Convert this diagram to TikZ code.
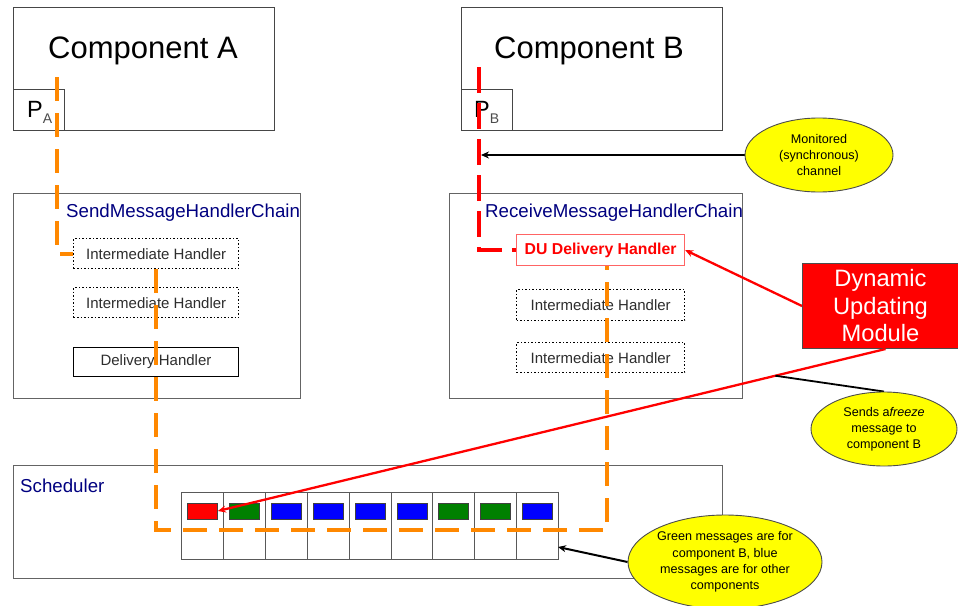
\documentclass[tikz,border=0pt]{standalone}
\usepackage{fontspec}
\setmainfont{Liberation Sans}
\usetikzlibrary{arrows.meta,shapes.geometric,calc}
\pgfdeclarelayer{front}
\pgfsetlayers{main,front}
\definecolor{navyc}{RGB}{0,0,128}
\definecolor{orangec}{RGB}{255,136,0}
\definecolor{boxgrey}{RGB}{70,70,70}
\definecolor{chaingrey}{RGB}{100,100,100}
\definecolor{txtgrey}{RGB}{45,45,45}
\definecolor{msgred}{RGB}{255,0,0}
\definecolor{msggreen}{RGB}{0,128,0}
\definecolor{msgblue}{RGB}{0,0,255}
\definecolor{lightred}{RGB}{255,100,100}
\definecolor{ellyellow}{RGB}{255,255,0}
\definecolor{dumred}{RGB}{255,0,0}
\tikzset{
  rbox/.style={anchor=north west, inner sep=0pt},
  compbox/.style={rbox, draw=boxgrey, line width=1.1pt},
  chainbox/.style={rbox, draw=chaingrey, line width=1.4pt},
  dotbox/.style={rbox, draw=black, line width=1.4pt, dash pattern=on 1.6pt off 1.9pt,
     text=txtgrey, font=\fontsize{15}{18}\selectfont},
  solidbox/.style={rbox, draw=black, line width=1pt, text=txtgrey, font=\fontsize{15}{18}\selectfont},
  titletxt/.style={anchor=base, inner sep=0pt, font=\fontsize{31}{37}\selectfont},
  ptxt/.style={anchor=base west, inner sep=0pt, font=\fontsize{23.5}{28}\selectfont},
  chainlbl/.style={anchor=base west, inner sep=0pt, text=navyc, font=\fontsize{18.7}{22}\selectfont},
  cell/.style={rbox, draw=black!65, line width=1pt, minimum width=41.9pt, minimum height=67pt},
  msg/.style={draw=black!75, line width=0.9pt, minimum width=30pt, minimum height=16pt, inner sep=0pt},
  orangeline/.style={draw=orangec, line width=4pt, dash pattern=on 24pt off 12pt},
  redchannel/.style={draw=red, line width=3.5pt, dash pattern=on 26pt off 10pt},
  redarrow/.style={draw=red, line width=2.3pt, -{Stealth[length=8pt,width=7pt]}},
  blackarrow/.style={draw=black, line width=2pt, -{Stealth[length=8pt,width=7pt]}},
  callout/.style={ellipse, draw=black!70, line width=0.9pt, fill=ellyellow, inner sep=0pt,
     align=center, font=\fontsize{12.6}{15.8}\selectfont},
}
\begin{document}
\begin{tikzpicture}[x=1pt,y=-1pt]
\useasboundingbox (0,0) rectangle (958,605);
\fill[white] (0,0) rectangle (958,605);

% components
\node[compbox, minimum width=261pt, minimum height=123pt] (compA) at (13,7) {};
\node[compbox, minimum width=51pt, minimum height=41pt] (pA) at (13,89) {};
\node[titletxt] (compAt) at (143,58) {Component A};
\node[ptxt] (pAt) at (27,117) {P\raisebox{-6pt}{\textcolor{black!70}{\fontsize{14}{16}\selectfont A}}};

\node[compbox, minimum width=261pt, minimum height=123pt] (compB) at (461,7) {};
\node[compbox, minimum width=51pt, minimum height=41pt] (pB) at (461,89) {};
\node[titletxt] (compBt) at (589,58) {Component B};
\node[ptxt] (pBt) at (474,117) {P\raisebox{-6pt}{\textcolor{black!70}{\fontsize{14}{16}\selectfont B}}};

% handler chains
\node[chainbox, minimum width=287pt, minimum height=205pt] (sendch) at (13,193) {};
\node[chainlbl] (sendlbl) at (66,217) {SendMessageHandlerChain};
\node[dotbox, minimum width=165pt, minimum height=30pt] (ih1) at (73,238) {Intermediate Handler};
\node[dotbox, minimum width=165pt, minimum height=30pt] (ih2) at (73,287) {Intermediate Handler};
\node[solidbox, minimum width=165pt, minimum height=29pt] (dh) at (73,347) {Delivery Handler};

\node[chainbox, minimum width=293pt, minimum height=205pt] (recvch) at (449,193) {};
\node[chainlbl] (recvlbl) at (485,217) {ReceiveMessageHandlerChain};
\node[rbox, draw=lightred, line width=1.2pt, minimum width=168pt, minimum height=31pt,
      text=red, font=\fontsize{15.8}{19}\selectfont\bfseries] (duh) at (516,234) {DU Delivery Handler};
\node[dotbox, minimum width=168pt, minimum height=31pt] (ih3) at (516,289) {Intermediate Handler};
\node[dotbox, minimum width=168pt, minimum height=30pt] (ih4) at (516,342) {Intermediate Handler};

% scheduler
\node[chainbox, minimum width=709pt, minimum height=113pt] (sched) at (13,465) {};
\node[chainlbl] (schedlbl) at (20,492) {Scheduler};
\foreach \i in {1,...,9} {
  \node[cell] (cell\i) at ({181+41.9*(\i-1)},492) {};
}
\foreach \i/\c in {1/msgred,2/msggreen,3/msgblue,4/msgblue,5/msgblue,6/msgblue,7/msggreen,8/msggreen,9/msgblue} {
  \node[msg, fill=\c] (msg\i) at ($(cell\i.north)+(0,19)$) {};
}

% message paths
\coordinate (oa) at (57,77);
\draw[orangeline] (oa) |- (ih1.west);
\draw[orangeline] (ih1.south) -- ++(0,261) -| ($(duh.south)+(6,0)$);
\coordinate (rb) at (479,67);
\draw[redchannel] (rb) |- (duh.west);

% dynamic updating module
\node[rbox, draw=black!70, fill=dumred, line width=1pt, minimum width=156pt, minimum height=85pt,
      text=white, align=center, font=\fontsize{23.7}{27.5}\selectfont] (dum) at (802,263)
      {Dynamic\\Updating\\Module};
\draw[redarrow] (dum.west) -- (duh.east);
\draw[redarrow] ($(dum.south)+(5,0)$) -- coordinate[pos=0.165] (fz) (msg1.east);

% callouts
\coordinate (pbch) at (481,155);
\coordinate (qin) at (558,547);
\begin{pgfonlayer}{front}
\node[callout, minimum width=148pt, minimum height=74pt] (mon) at (819,155)
   {Monitored\\(synchronous)\\channel};
\node[callout, minimum width=146pt, minimum height=74pt] (sends) at (884,429)
   {Sends a\textit{freeze}\\message to\\component B};
\node[callout, minimum width=194pt, minimum height=94pt, font=\fontsize{12.6}{16.2}\selectfont] (greenell) at (725,562)
   {Green messages are for\\component B, blue\\messages are for other\\components};
\end{pgfonlayer}
\draw[blackarrow] (mon.west) -- (pbch);
\draw[draw=black, line width=1.8pt] (sends.north) -- (fz);
\draw[blackarrow] (greenell.west) -- (qin);
\end{tikzpicture}
\end{document}
